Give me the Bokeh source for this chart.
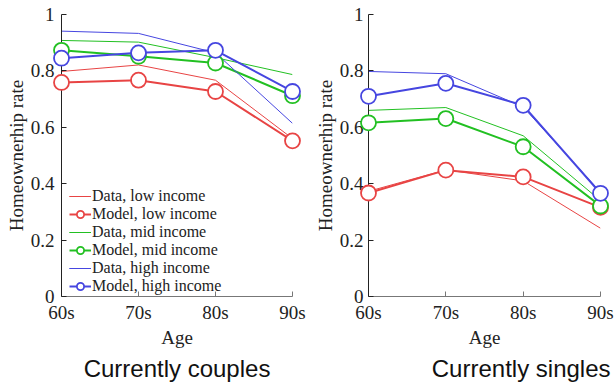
from bokeh.plotting import figure
from bokeh.models import Range1d, FixedTicker, Legend, Title
from bokeh.layouts import row
from bokeh.embed import file_html
from bokeh.resources import INLINE

ages = ["60s", "70s", "80s", "90s"]
yticks = [0, 0.2, 0.4, 0.6, 0.8, 1]
ytick_labels = ["0", "0.2", "0.4", "0.6", "0.8", "1"]

# Currently couples
c_data_low = [0.798, 0.821, 0.767, 0.560]
c_model_low = [0.759, 0.767, 0.727, 0.552]
c_data_mid = [0.908, 0.902, 0.847, 0.787]
c_model_mid = [0.873, 0.852, 0.828, 0.712]
c_data_high = [0.941, 0.933, 0.864, 0.614]
c_model_high = [0.845, 0.864, 0.873, 0.727]

# Currently singles
s_data_low = [0.373, 0.449, 0.410, 0.242]
s_model_low = [0.367, 0.448, 0.424, 0.316]
s_data_mid = [0.660, 0.670, 0.570, 0.340]
s_model_mid = [0.616, 0.631, 0.531, 0.321]
s_data_high = [0.798, 0.790, 0.672, 0.370]
s_model_high = [0.710, 0.756, 0.678, 0.366]

RED = "#e84444"
GREEN = "#22c022"
BLUE = "#4646e0"
TXT = "#222222"
SERIF = "Liberation Serif"
SANS = "Liberation Sans"
x = list(range(len(ages)))


def make(title, series, width, left_border, right_border, legend, tick_standoff, title_align):
    p = figure(width=width, height=383, output_backend="svg", toolbar_location=None,
               x_range=Range1d(0, len(ages) - 1), y_range=Range1d(0, 1),
               min_border_left=left_border, min_border_right=right_border,
               min_border_top=14, min_border_bottom=82)
    p.outline_line_color = None
    p.grid.visible = False
    p.title.visible = False

    xa = p.xaxis[0]
    ya = p.yaxis[0]
    for ax in (xa, ya):
        ax.major_tick_in = 5
        ax.major_tick_out = 0
        ax.minor_tick_line_color = None
        ax.major_label_text_font = SERIF
        ax.major_label_text_font_size = "19px"
        ax.major_label_text_color = TXT
        ax.axis_label_text_font = SERIF
        ax.axis_label_text_font_size = "19px"
        ax.axis_label_text_font_style = "normal"
        ax.axis_label_text_color = TXT
        ax.axis_label_standoff = 1
    xa.ticker = FixedTicker(ticks=x)
    xa.major_label_overrides = {i: a for i, a in zip(x, ages)}
    ya.ticker = FixedTicker(ticks=yticks)
    ya.major_label_overrides = {t: l for t, l in zip(yticks, ytick_labels)}
    xa.axis_label = "Age"
    ya.axis_label = "Homeownerhip rate"
    xa.major_label_standoff = 5
    ya.major_label_standoff = tick_standoff
    xa.axis_line_color = "#777777"
    xa.major_tick_line_color = "#777777"
    ya.axis_line_color = "#222222"
    ya.major_tick_line_color = "#222222"

    items = []
    for (dvals, mvals), lab, col in zip(series, ["low", "mid", "high"], [RED, GREEN, BLUE]):
        rd = p.line(x, dvals, line_color=col, line_width=1)
        rm = p.line(x, mvals, line_color=col, line_width=2)
        rs = p.scatter(x, mvals, size=15, marker="circle", line_color=col,
                       line_width=1.8, fill_color="white", level="overlay")
        items.append(("Data, %s income" % lab, [rd, rd]))
        items.append(("Model, %s income" % lab, [rm, rs]))
    if legend:
        lg = Legend(items=items, location=(8, 1), background_fill_alpha=0,
                    border_line_color=None, label_text_font=SERIF,
                    label_text_font_size="16px", label_text_color=TXT,
                    label_height=18, glyph_height=18, glyph_width=22,
                    label_standoff=1, spacing=0, padding=2, margin=0)
        p.add_layout(lg, "center")

    t = Title(text=title, align=title_align, text_font=SANS, text_font_size="24px",
              text_font_style="normal", text_color="#111111", standoff=4)
    if title_align == "right":
        t.offset = -10
    p.add_layout(t, "below")
    return p


p1 = make("Currently couples",
          [(c_data_low, c_model_low), (c_data_mid, c_model_mid), (c_data_high, c_model_high)],
          306, 61, 14, True, 7, "center")
p2 = make("Currently singles",
          [(s_data_low, s_model_low), (s_data_mid, s_model_mid), (s_data_high, s_model_high)],
          308, 62, 14, False, 5, "right")

layout = row(p1, p2)
open("out.html", "w").write(file_html(layout, INLINE))
